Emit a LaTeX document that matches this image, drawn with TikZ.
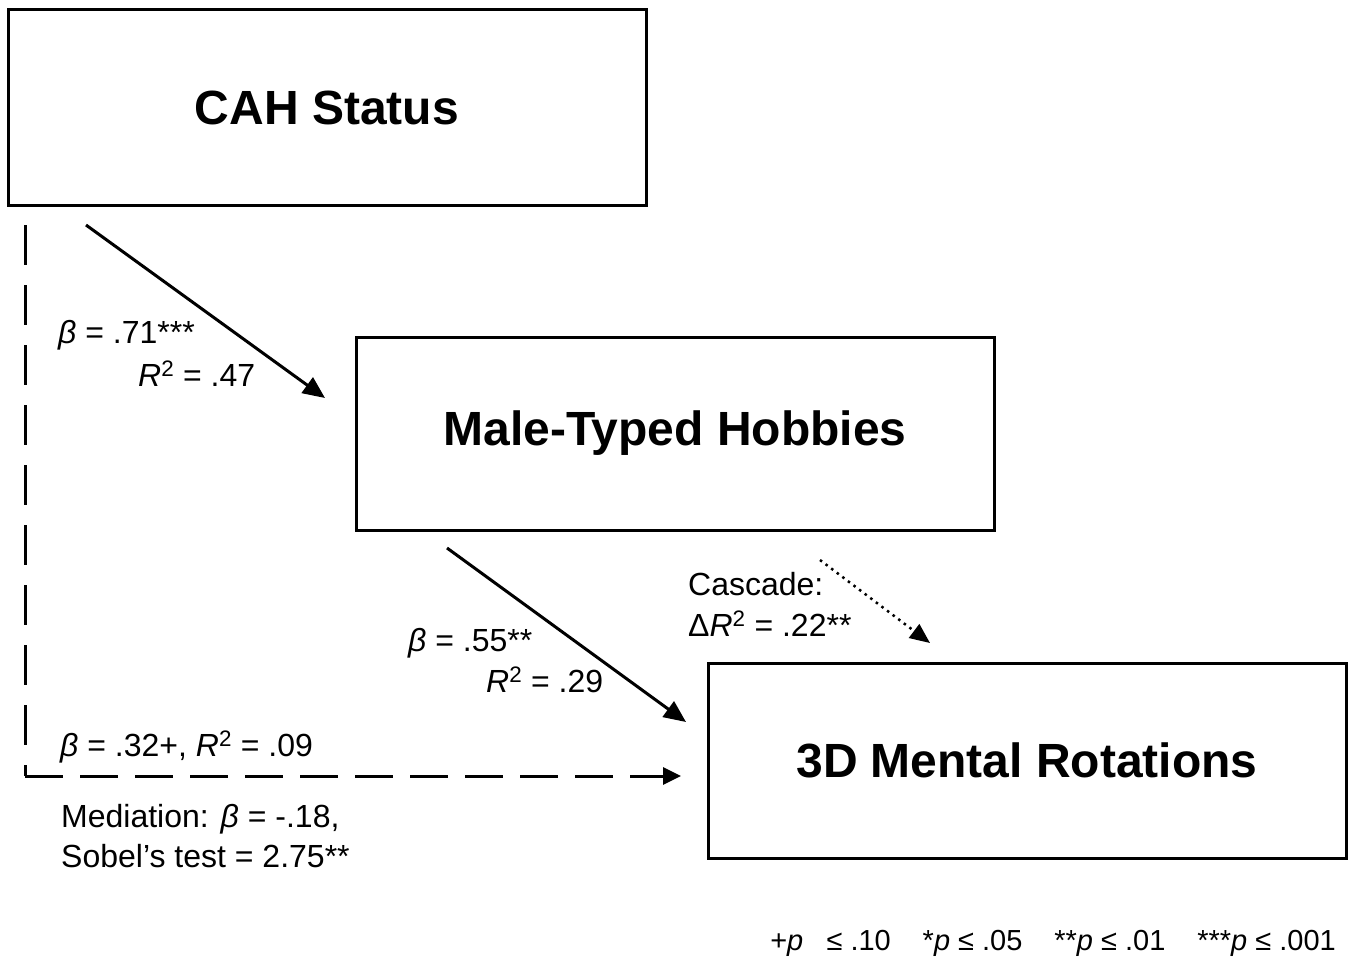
\documentclass[tikz,border=0pt]{standalone}
\usepackage{fontspec}
\setmainfont{Liberation Sans}
\usetikzlibrary{arrows.meta}
\begin{document}
\begin{tikzpicture}[x=1pt,y=-1pt,
  box/.style={draw,line width=3pt,minimum width=638pt,minimum height=195pt,inner sep=0pt,
    font=\fontsize{48}{52}\selectfont\bfseries},
  lab/.style={anchor=base west,inner sep=0pt,font=\fontsize{32}{36}\selectfont},
  conn/.style={line width=3pt,-{Triangle[length=22pt,width=19pt]}},
  dashconn/.style={line width=3pt,dash pattern=on 38pt off 17pt,-{Triangle[length=18pt,width=17pt]}},
  dotconn/.style={line width=2.5pt,dash pattern=on 2.5pt off 4.5pt,-{Triangle[length=20pt,width=17pt]}}
]
\useasboundingbox (0,0) rectangle (1352,958);
\node[box] (cah) at (327,107.5) {\raisebox{-3pt}{CAH Status}};
\node[box,minimum height=193pt] (mth) at (675,433.5) {\raisebox{-3pt}{Male-Typed Hobbies}};
\node[box] (mr) at (1027,760.5) {\raisebox{-3pt}{3D Mental Rotations}};

\coordinate (a1s) at (86,225);
\coordinate (a1e) at (325,398);
\coordinate (a2s) at (447,548);
\coordinate (a2e) at (686,722);
\coordinate (a3s) at (820,560);
\coordinate (a3e) at (930,643);
\coordinate (dtop) at (25,225);
\coordinate (corner) at (25,776);
\coordinate (dend) at (681,776);

\draw[conn] (a1s) -- (a1e);
\draw[conn] (a2s) -- (a2e);
\draw[dotconn] (a3s) -- (a3e);
\draw[line width=3pt,dash pattern=on 40pt off 20pt] (dtop) -- (corner);
\draw[dashconn] (corner) -- (dend);

\node[lab] (l1) at (58,343) {\textit{β} = .71***};
\node[lab] (l2) at (138,386) {\textit{R}\textsuperscript{2} = .47};
\node[lab] (l3) at (408,651) {\textit{β} = .55**};
\node[lab] (l4) at (486,692) {\textit{R}\textsuperscript{2} = .29};
\node[lab] (l5) at (688,595) {Cascade:};
\node[lab] (l6) at (688,636) {Δ\textit{R}\textsuperscript{2} = .22**};
\node[lab] (l7) at (60,756) {\textit{β} = .32+, \textit{R}\textsuperscript{2} = .09};
\node[lab] (l8) at (61,827) {Mediation: \textit{β} = -.18,};
\node[lab] (l9) at (61,867) {Sobel’s test = 2.75**};
\node[anchor=base east,inner sep=0pt,font=\fontsize{29}{32}\selectfont] (fn) at (1336,950)
  {+\textit{p}\hspace{0.8em}≤ .10\hspace{1.1em}*\textit{p} ≤ .05\hspace{1.1em}**\textit{p} ≤ .01\hspace{1.1em}***\textit{p} ≤ .001};
\end{tikzpicture}
\end{document}
